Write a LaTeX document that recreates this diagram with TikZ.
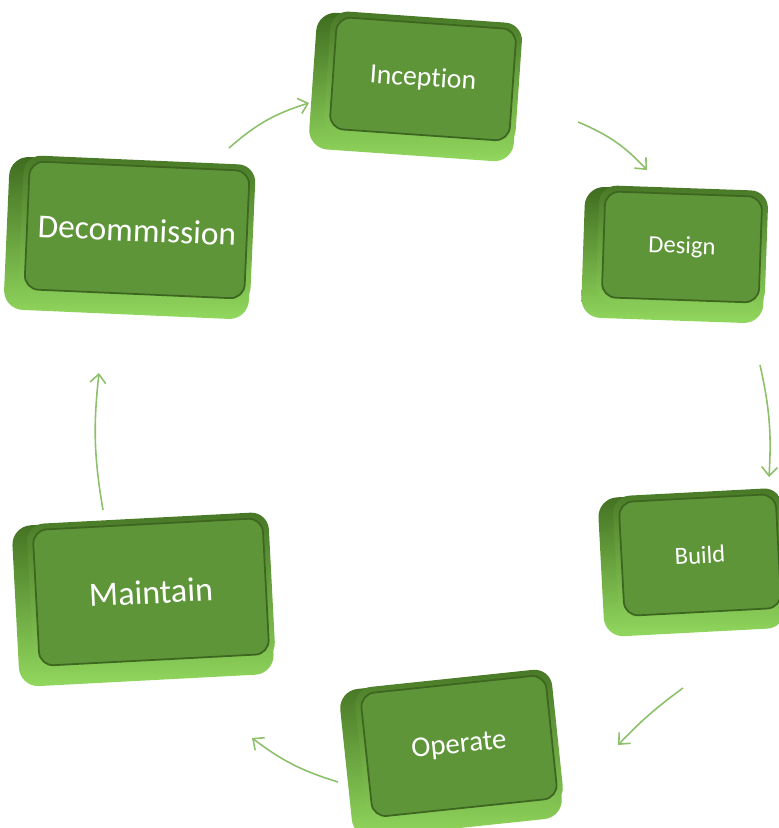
\documentclass[tikz,border=0pt]{standalone}
\usepackage{fontspec}
\newfontfamily\boxfont[Ligatures=NoCommon]{Carlito}
\usetikzlibrary{arrows.meta}

\definecolor{facegreen}{HTML}{5E9539}
\definecolor{edgegreen}{HTML}{487826}
\definecolor{slabdark}{HTML}{3F6C1F}
\definecolor{slablight}{HTML}{92D85E}
\definecolor{arrowgreen}{HTML}{8CC06A}

\tikzset{
  slab/.style={rounded corners=11pt, top color=slabdark, bottom color=slablight},
  rim/.style={rounded corners=10pt, top color=edgegreen, bottom color=slablight!85!facegreen},
  face/.style={rounded corners=8pt, fill=facegreen, draw=edgegreen!85!black, line width=1pt,
    text=white, font=\boxfont, inner sep=0pt},
  flow/.style={->, draw=arrowgreen, line width=0.9pt},
  >={Straight Barb[length=5pt,width=9pt]},
}

% name, x, y, angle, width (mm), height (mm), font size, text
\newcommand\phasebox[8]{%
  \node[slab, rotate=#4, minimum width=#5mm+5mm, minimum height=#6mm+5mm] (#1-slab) at (#2-8,#3-8) {};
  \node[rim, rotate=#4, minimum width=#5mm+2.4mm, minimum height=#6mm+2.4mm] (#1-rim) at (#2,#3) {};
  \node[face, rotate=#4, minimum width=#5mm, minimum height=#6mm] (#1) at (#2,#3) {\fontsize{#7}{#7}\selectfont #8};
}

\begin{document}
\begin{tikzpicture}[x=0.2mm, y=0.2mm]
\useasboundingbox (0,0) rectangle (779,828);
\phasebox{inc}{423}{749}{-4}{36}{22.4}{15.8}{Inception}
\phasebox{des}{682}{581}{-2}{31.4}{21.2}{14}{Design}
\phasebox{bui}{700}{273}{3}{31.4}{22.8}{14}{Build}
\phasebox{ope}{459}{82}{6}{37.2}{24.8}{16.4}{Operate}
\phasebox{mai}{151}{236}{3}{46}{27.2}{19.4}{Maintain}
\phasebox{dec}{137}{598}{-2.5}{44}{25.6}{19}{Decommission}
% arrow ends
\coordinate (dec-out) at (229,680);
\coordinate (inc-in) at (309,725);
\coordinate (inc-out) at (578,706);
\coordinate (des-in) at (647,658);
\coordinate (des-out) at (760,463);
\coordinate (bui-in) at (769,351);
\coordinate (bui-out) at (683,140);
\coordinate (ope-in) at (618,83);
\coordinate (ope-out) at (338,46);
\coordinate (mai-in) at (252,90);
\coordinate (mai-out) at (103,318);
\coordinate (dec-in) at (99,455);
\draw[flow] (dec-out) to[bend left=12] (inc-in);
\draw[flow] (inc-out) to[bend left=12] (des-in);
\draw[flow] (des-out) to[bend left=8] (bui-in);
\draw[flow] (bui-out) to[bend right=5] (ope-in);
\draw[flow] (ope-out) to[bend left=10] (mai-in);
\draw[flow] (mai-out) to[bend left=8] (dec-in);
\end{tikzpicture}
\end{document}
